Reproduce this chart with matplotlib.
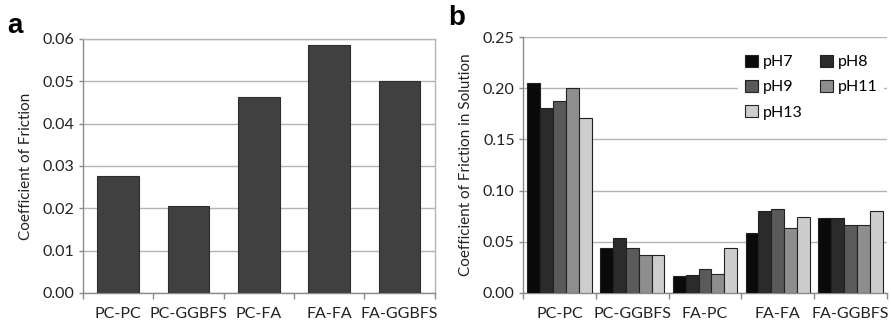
import matplotlib
matplotlib.use("Agg")
import matplotlib.pyplot as plt
import numpy as np

plt.rcParams['font.family'] = ['Lato', 'DejaVu Sans']

categories = ["PC-PC", "PC-GGBFS", "PC-FA", "FA-FA", "FA-GGBFS"]
cof_a = [0.0277, 0.0205, 0.0463, 0.0585, 0.0500]

categories_b = ["PC-PC", "PC-GGBFS", "FA-PC", "FA-FA", "FA-GGBFS"]
series_names = ["pH7", "pH8", "pH9", "pH11", "pH13"]
series_values = {
    "pH7":  [0.205, 0.044, 0.017, 0.059, 0.0735],
    "pH8":  [0.181, 0.054, 0.018, 0.080, 0.0735],
    "pH9":  [0.188, 0.044, 0.023, 0.082, 0.0665],
    "pH11": [0.200, 0.037, 0.019, 0.063, 0.0665],
    "pH13": [0.171, 0.0375, 0.044, 0.074, 0.080],
}
series_colors = ["#0a0a0a", "#2b2b2b", "#5a5a5a", "#8e8e8e", "#cdcdcd"]

fig = plt.figure(figsize=(8.91, 3.24), dpi=100)
ax1 = fig.add_axes([0.093, 0.0957, 0.395, 0.784])
ax2 = fig.add_axes([0.587, 0.0957, 0.4085, 0.790])

grid_c = "#b4b4b4"
spine_c = "#8a8a8a"
txt_c = "#222222"
fs = 11.5

def style(ax, ymax, step, ncat):
    ax.set_xlim(-0.5, ncat - 0.5)
    ax.set_ylim(0, ymax)
    ticks = np.arange(0, ymax + step / 2, step)
    ax.set_yticks(ticks)
    ax.set_yticklabels([f"{t:.2f}" for t in ticks])
    ax.yaxis.grid(True, color=grid_c, linewidth=1.0)
    ax.set_axisbelow(True)
    ax.set_xticks(np.arange(ncat))
    ax.set_xticks(np.arange(-0.5, ncat, 1.0), minor=True)
    ax.tick_params(axis='x', which='major', length=0, pad=10, labelsize=fs, colors=txt_c)
    ax.tick_params(axis='x', which='minor', length=4, width=1, color=spine_c, direction='out')
    ax.tick_params(axis='y', length=3, width=1, color=spine_c, labelsize=fs, labelcolor=txt_c, pad=3)
    for s in ax.spines.values():
        s.set_color(spine_c)
        s.set_linewidth(1.0)

# Panel a
x = np.arange(len(categories))
ax1.bar(x, cof_a, width=0.59, color="#404040", edgecolor="#2e2e2e", linewidth=0.8, zorder=3)
style(ax1, 0.06, 0.01, len(categories))
ax1.set_xticklabels(categories)
for s in ["top", "right"]:
    ax1.spines[s].set_color(grid_c)
ax1.set_ylabel("Coefficient of Friction", fontsize=11, color=txt_c, labelpad=7)

# Panel b
xb = np.arange(len(categories_b))
bw = 0.177
handles = {}
for i, name in enumerate(series_names):
    h = ax2.bar(xb + (i - 2) * bw, series_values[name], width=bw, color=series_colors[i],
                edgecolor="#222222", linewidth=0.8, zorder=3, label=name)
    handles[name] = h
style(ax2, 0.25, 0.05, len(categories_b))
ax2.set_xticklabels(categories_b)
ax2.spines["top"].set_visible(False)
ax2.spines["right"].set_visible(False)
ax2.set_ylabel("Coefficient of Friction in Solution", fontsize=11, color=txt_c, labelpad=7)
order = ["pH7", "pH9", "pH13", "pH8", "pH11"]
leg = ax2.legend([handles[n] for n in order], order, ncol=2, loc="upper right",
                 bbox_to_anchor=(1.015, 0.99), frameon=True,
                 fontsize=11.5, handlelength=0.8, handleheight=0.8, handletextpad=0.3,
                 columnspacing=1.1, labelspacing=0.65, borderpad=0.45)
leg.get_frame().set_edgecolor("white")
leg.get_frame().set_facecolor("white")
leg.get_frame().set_alpha(1.0)
leg.get_frame().set_linewidth(0)

fig.text(0.008, 0.92, "a", fontsize=20, fontweight="bold", ha="left", va="center",
         family=["Liberation Sans", "DejaVu Sans"])
fig.text(0.503, 0.943, "b", fontsize=20, fontweight="bold", ha="left", va="center",
         family=["Liberation Sans", "DejaVu Sans"])

fig.savefig("out.png", dpi=100)
